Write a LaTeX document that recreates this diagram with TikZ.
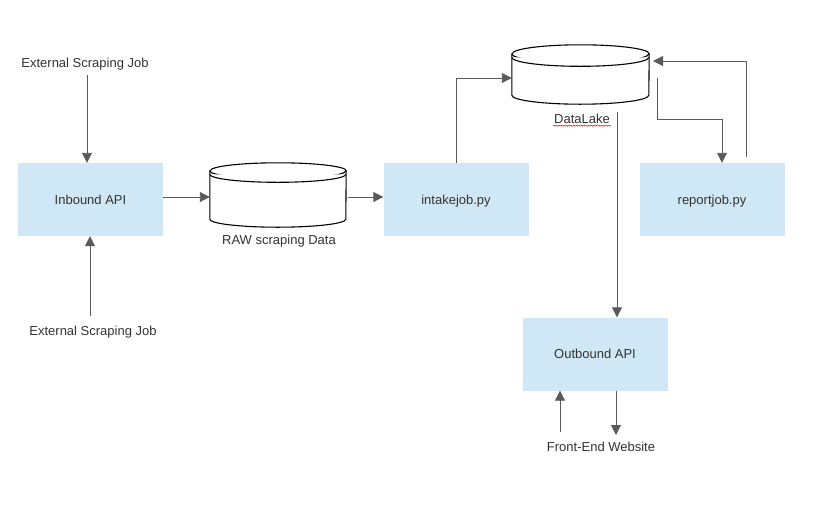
\documentclass[tikz,border=0pt]{standalone}
\usepackage{fontspec}
\setmainfont{Liberation Sans}
\usetikzlibrary{arrows.meta,decorations.pathmorphing}
\definecolor{boxblue}{HTML}{D0E7F5}
\definecolor{txt}{HTML}{333333}
\definecolor{ln}{HTML}{5A5A5A}
\newcommand\dstore[3]{%
 \draw[dsline] ([yshift=-#3]#1.north west) -- ([yshift=#3]#1.south west)
   arc[start angle=180,end angle=360,x radius=#2,y radius=#3]
   -- ([yshift=-#3]#1.north east)
   arc[start angle=0,end angle=180,x radius=#2,y radius=#3] -- cycle;
 \draw[dsline] ([yshift=-#3]#1.north west) arc[start angle=180,end angle=360,x radius=#2,y radius=#3];
 \draw[dsline] ([yshift=-#3-3.5pt]#1.north west) arc[start angle=180,end angle=360,x radius=#2,y radius=#3];
}
\tikzset{
  box/.style={fill=boxblue, draw=none, minimum width=145pt, minimum height=73pt, inner sep=0pt, text depth=0pt, text=txt, font=\fontsize{13}{15}\selectfont},
  lbl/.style={inner sep=1pt, text depth=0pt, text=txt, font=\fontsize{13}{15}\selectfont},
  store/.style={draw=none, inner sep=0pt},
  dsline/.style={draw=black, line width=1.1pt, fill=white},
  arr/.style={draw=ln, line width=0.9pt, -{Triangle[length=10pt,width=10pt]}}
}
\begin{document}
\begin{tikzpicture}
\useasboundingbox (0,0) rectangle (813pt,-509pt);
\begin{scope}[x=1pt,y=1pt]
% boxes
\node[box] (inbound) at (90.5,-199.5) {Inbound API};
\node[box] (intake) at (456,-199.5) {intakejob.py};
\node[box] (report) at (712,-199.5) {reportjob.py};
\node[box] (outbound) at (595,-354) {Outbound API};
% stores
\node[store, minimum width=136pt, minimum height=64pt] (raw) at (278,-195) {};
\node[store, minimum width=137pt, minimum height=59pt] (lake) at (580.5,-74.5) {};
\dstore{raw}{68pt}{8pt}
\dstore{lake}{68.5pt}{9pt}
% labels
\node[lbl] (rawlbl) at (279,-239.5) {RAW scraping Data};
\node[lbl] (lakelbl) at (582,-118.5) {DataLake};
\node[lbl] (ext1) at (85,-62.5) {External Scraping Job};
\node[lbl] (ext2) at (93,-330.5) {External Scraping Job};
\node[lbl] (front) at (601,-446.5) {Front-End Website};
\draw[red, line width=0.5pt, decorate, decoration={snake,amplitude=0.6pt,segment length=2.5pt}]
  ([yshift=-2.5pt]lakelbl.base west) -- ([yshift=-2.5pt]lakelbl.base east);
% coordinates
\coordinate (e1) at (87,-75);
\coordinate (e2) at (90,-316);
\coordinate (rawout) at (348,-197);
\coordinate (inup) at (456,-78);
\coordinate (lkout) at (657,-78);
\coordinate (c1) at (722,-119);
\coordinate (rpup) at (746,-157);
\coordinate (lkin) at (653,-61);
\coordinate (dlout) at (617,-112);
\coordinate (fu) at (560,-432);
\coordinate (fd) at (616,-435);
% connectors
\draw[arr] (e1) -- (e1 |- inbound.north);
\draw[arr] (e2) -- (e2 |- inbound.south);
\draw[arr] (inbound.east |- rawout) -- (raw.west |- rawout);
\draw[arr] (rawout) -- (intake.west |- rawout);
\draw[arr] (intake.north) |- (lake.west |- inup);
\draw[arr] (lkout) |- (c1) -- (c1 |- report.north);
\draw[arr] (rpup) |- (lkin);
\draw[arr] (dlout) -- (dlout |- outbound.north);
\draw[arr] (fu) -- (fu |- outbound.south);
\draw[arr] (fd |- outbound.south) -- (fd);
\end{scope}
\end{tikzpicture}
\end{document}
